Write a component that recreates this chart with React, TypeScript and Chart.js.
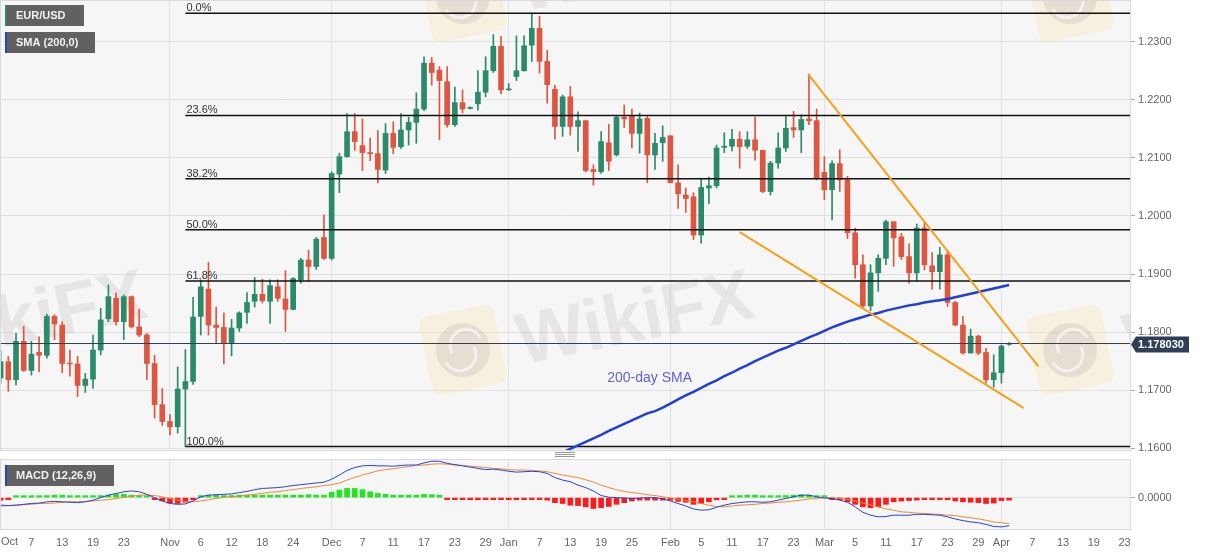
import React, { useEffect, useRef } from 'react';
import { Chart, registerables } from 'chart.js';

Chart.register(...registerables);

// ---------------- data ----------------
const tickIdx = [0, 4, 8, 12, 16, 22, 26, 30, 34, 38, 43, 47, 51, 55, 59, 63, 66, 70, 74, 78, 82, 87, 91, 95, 99, 103, 107, 111, 115, 119, 123, 127, 130, 134, 138, 142, 146];
const tickLabels = ['Oct', '7', '13', '19', '23', 'Nov', '6', '12', '18', '24', 'Dec', '7', '11', '17', '23', '29', 'Jan', '7', '13', '19', '25', 'Feb', '5', '11', '17', '23', 'Mar', '5', '11', '17', '23', '29', 'Apr', '7', '13', '19', '23'];
const monthIdx = [22, 43, 66, 87, 107, 130];

const opens = [
  1.1721, 1.1749, 1.1718, 1.1784, 1.1734, 1.1765, 1.1760, 1.1827, 1.1812, 1.1746,
  1.1745, 1.1708, 1.1719, 1.1769, 1.1823, 1.1858, 1.1818, 1.1861, 1.1809, 1.1795,
  1.1746, 1.1675, 1.1646, 1.1637, 1.1702, 1.1715, 1.1827, 1.1874, 1.1812, 1.1808,
  1.1781, 1.1807, 1.1834, 1.1853, 1.1865, 1.1853, 1.1878, 1.1857, 1.1839, 1.1890,
  1.1924, 1.1913, 1.1963, 1.1927, 1.2072, 1.2102, 1.2145, 1.2121, 1.2109, 1.2107,
  1.2079, 1.2142, 1.2119, 1.2148, 1.2161, 1.2184, 1.2263, 1.2251, 1.2231, 1.2157,
  1.2195, 1.2185, 1.2193, 1.2213, 1.2250, 1.2292, 1.2217, 1.2240, 1.2250, 1.2294,
  1.2323, 1.2266, 1.2218, 1.2154, 1.2205, 1.2154, 1.2164, 1.2080, 1.2076, 1.2126,
  1.2105, 1.2170, 1.2172, 1.2142, 1.2168, 1.2105, 1.2126, 1.2138, 1.2057, 1.2036,
  1.2033, 1.1967, 1.2048, 1.2052, 1.2118, 1.2120, 1.2132, 1.2120, 1.2131, 1.2113,
  1.2042, 1.2091, 1.2117, 1.2152, 1.2148, 1.2167, 1.2164, 1.2075, 1.2045, 1.2090,
  1.2062, 1.1971, 1.1916, 1.1845, 1.1902, 1.1927, 1.1990, 1.1964, 1.1930, 1.1902,
  1.1979, 1.1914, 1.1904, 1.1933, 1.1851, 1.1812, 1.1764, 1.1793, 1.1765, 1.1718,
  1.1730, 1.1779,
];
const highs = [
  1.1768, 1.1758, 1.1798, 1.1810, 1.1784, 1.1792, 1.1831, 1.1830, 1.1818, 1.1769,
  1.1758, 1.1729, 1.1795, 1.1841, 1.1881, 1.1867, 1.1864, 1.1862, 1.1839, 1.1798,
  1.1760, 1.1703, 1.1658, 1.1740, 1.1770, 1.1860, 1.1890, 1.1920, 1.1843, 1.1833,
  1.1822, 1.1835, 1.1868, 1.1894, 1.1891, 1.1890, 1.1890, 1.1906, 1.1894, 1.1927,
  1.1941, 1.1963, 1.2002, 1.2076, 1.2108, 1.2176, 1.2176, 1.2167, 1.2134, 1.2147,
  1.2159, 1.2162, 1.2176, 1.2170, 1.2212, 1.2274, 1.2273, 1.2257, 1.2257, 1.2222,
  1.2217, 1.2188, 1.2250, 1.2274, 1.2312, 1.2309, 1.2228, 1.2310, 1.2310, 1.2349,
  1.2344, 1.2285, 1.2225, 1.2208, 1.2223, 1.2179, 1.2164, 1.2088, 1.2145, 1.2158,
  1.2172, 1.2191, 1.2184, 1.2177, 1.2171, 1.2142, 1.2155, 1.2138, 1.2088, 1.2048,
  1.2040, 1.2065, 1.2067, 1.2122, 1.2143, 1.2149, 1.2145, 1.2145, 1.2170, 1.2113,
  1.2094, 1.2143, 1.2171, 1.2180, 1.2174, 1.2244, 1.2184, 1.2102, 1.2095, 1.2114,
  1.2068, 1.1979, 1.1933, 1.1916, 1.1933, 1.1993, 1.1990, 1.1970, 1.1952, 1.1986,
  1.1988, 1.1937, 1.1946, 1.1941, 1.1853, 1.1827, 1.1805, 1.1795, 1.1772, 1.1761,
  1.1778, 1.1782,
];
const lows = [
  1.1712, 1.1698, 1.1709, 1.1732, 1.1726, 1.1732, 1.1755, 1.1787, 1.1730, 1.1724,
  1.1689, 1.1696, 1.1703, 1.1761, 1.1818, 1.1812, 1.1787, 1.1807, 1.1792, 1.1718,
  1.1652, 1.1639, 1.1623, 1.1626, 1.1603, 1.1710, 1.1795, 1.1795, 1.1781, 1.1745,
  1.1759, 1.1801, 1.1815, 1.1843, 1.1850, 1.1815, 1.1853, 1.1801, 1.1838, 1.1884,
  1.1887, 1.1908, 1.1925, 1.1924, 1.2040, 1.2101, 1.2113, 1.2078, 1.2095, 1.2057,
  1.2073, 1.2107, 1.2116, 1.2122, 1.2125, 1.2181, 1.2225, 1.2131, 1.2153, 1.2154,
  1.2177, 1.2184, 1.2182, 1.2205, 1.2247, 1.2210, 1.2216, 1.2233, 1.2249, 1.2266,
  1.2246, 1.2194, 1.2132, 1.2137, 1.2139, 1.2111, 1.2076, 1.2053, 1.2073, 1.2078,
  1.2103, 1.2152, 1.2117, 1.2108, 1.2057, 1.2080, 1.2094, 1.2057, 1.2013, 1.2006,
  1.1959, 1.1953, 1.2021, 1.2048, 1.2109, 1.2112, 1.2082, 1.2116, 1.2096, 1.2040,
  1.2036, 1.2082, 1.2111, 1.2135, 1.2109, 1.2157, 1.2062, 1.2028, 1.1993, 1.2042,
  1.1961, 1.1893, 1.1841, 1.1837, 1.1870, 1.1916, 1.1913, 1.1925, 1.1884, 1.1887,
  1.1907, 1.1874, 1.1874, 1.1844, 1.1811, 1.1762, 1.1764, 1.1761, 1.1712, 1.1705,
  1.1712, 1.1777,
];
const closes = [
  1.1749, 1.1718, 1.1784, 1.1734, 1.1762, 1.1760, 1.1827, 1.1814, 1.1746, 1.1745,
  1.1708, 1.1719, 1.1769, 1.1821, 1.1861, 1.1818, 1.1861, 1.1809, 1.1795, 1.1746,
  1.1675, 1.1646, 1.1637, 1.1702, 1.1715, 1.1826, 1.1878, 1.1812, 1.1808, 1.1781,
  1.1807, 1.1833, 1.1851, 1.1865, 1.1854, 1.1880, 1.1858, 1.1839, 1.1892, 1.1924,
  1.1913, 1.1960, 1.1927, 1.2073, 1.2102, 1.2145, 1.2128, 1.2109, 1.2107, 1.2080,
  1.2142, 1.2118, 1.2148, 1.2161, 1.2184, 1.2263, 1.2247, 1.2233, 1.2157, 1.2195,
  1.2184, 1.2186, 1.2213, 1.2250, 1.2292, 1.2217, 1.2217, 1.2250, 1.2293, 1.2323,
  1.2266, 1.2226, 1.2154, 1.2205, 1.2154, 1.2164, 1.2078, 1.2076, 1.2128, 1.2094,
  1.2170, 1.2167, 1.2142, 1.2167, 1.2105, 1.2125, 1.2135, 1.2057, 1.2038, 1.2030,
  1.1967, 1.2049, 1.2052, 1.2117, 1.2120, 1.2132, 1.2119, 1.2131, 1.2113, 1.2042,
  1.2091, 1.2117, 1.2151, 1.2148, 1.2166, 1.2164, 1.2065, 1.2045, 1.2090, 1.2062,
  1.1971, 1.1916, 1.1845, 1.1902, 1.1927, 1.1990, 1.1962, 1.1930, 1.1902, 1.1979,
  1.1916, 1.1904, 1.1933, 1.1851, 1.1812, 1.1764, 1.1793, 1.1764, 1.1718, 1.1730,
  1.1776, 1.1780,
];

const priceTicks = [1.16, 1.17, 1.18, 1.19, 1.2, 1.21, 1.22, 1.23];
const fibLevels = [1.2349, 1.2173, 1.2064, 1.1976, 1.1888, 1.1603];
const fibLabels = ['0.0%', '23.6%', '38.2%', '50.0%', '61.8%', '100.0%'];
const fibStartIdx = 24;
const currentPrice = 1.17803;

const smaStartIdx = 72;
const smaValues = [
  1.1587, 1.1593, 1.1599, 1.1605, 1.1611, 1.1617, 1.1623, 1.1630, 1.1636, 1.1642,
  1.1648, 1.1654, 1.1660, 1.1664, 1.1670, 1.1677, 1.1684, 1.1691, 1.1697, 1.1704,
  1.1711, 1.1717, 1.1724, 1.1730, 1.1737, 1.1743, 1.1750, 1.1756, 1.1762, 1.1768,
  1.1773, 1.1779, 1.1785, 1.1791, 1.1796, 1.1802, 1.1808, 1.1813, 1.1818, 1.1822,
  1.1826, 1.1830, 1.1833, 1.1837, 1.1840, 1.1843, 1.1846, 1.1848, 1.1851, 1.1853,
  1.1855, 1.1857, 1.1860, 1.1863, 1.1866, 1.1869, 1.1872, 1.1875, 1.1878, 1.1881,
];

const upperTrendIdx = [104.9, 134.8];
const upperTrendPrice = [1.2244, 1.1741];
const lowerTrendIdx = [96.0, 132.9];
const lowerTrendPrice = [1.1972, 1.1669];

const macdValues = [
  -0.0018, -0.0019, -0.0018, -0.0016, -0.0014, -0.0013, -0.0010, -0.0009, -0.0010, -0.0011,
  -0.0012, -0.0010, -0.0006, 0.0000, 0.0006, 0.0010, 0.0014, 0.0016, 0.0014, 0.0008,
  0.0000, -0.0008, -0.0014, -0.0016, -0.0015, -0.0008, 0.0002, 0.0006, 0.0007, 0.0008,
  0.0009, 0.0012, 0.0015, 0.0019, 0.0022, 0.0023, 0.0024, 0.0026, 0.0029, 0.0031,
  0.0033, 0.0035, 0.0037, 0.0044, 0.0054, 0.0065, 0.0072, 0.0076, 0.0077, 0.0076,
  0.0076, 0.0075, 0.0077, 0.0078, 0.0078, 0.0083, 0.0087, 0.0087, 0.0082, 0.0079,
  0.0076, 0.0073, 0.0070, 0.0067, 0.0068, 0.0066, 0.0063, 0.0061, 0.0062, 0.0063,
  0.0062, 0.0058, 0.0048, 0.0042, 0.0038, 0.0030, 0.0024, 0.0016, 0.0005, 0.0001,
  0.0000, -0.0001, -0.0002, -0.0001, 0.0000, 0.0000, -0.0003, -0.0008, -0.0014, -0.0020,
  -0.0027, -0.0030, -0.0029, -0.0023, -0.0018, -0.0014, -0.0012, -0.0010, -0.0010, -0.0011,
  -0.0010, -0.0006, -0.0002, 0.0002, 0.0006, 0.0006, 0.0002, -0.0001, -0.0002, -0.0006,
  -0.0011, -0.0022, -0.0035, -0.0042, -0.0046, -0.0045, -0.0042, -0.0042, -0.0042, -0.0040,
  -0.0040, -0.0041, -0.0042, -0.0046, -0.0051, -0.0055, -0.0058, -0.0060, -0.0064, -0.0069,
  -0.0070, -0.0067,
];
const signalValues = [
  -0.0020, -0.0019, -0.0018, -0.0017, -0.0016, -0.0014, -0.0014, -0.0013, -0.0011, -0.0010,
  -0.0010, -0.0009, -0.0008, -0.0006, -0.0005, -0.0002, 0.0001, 0.0003, 0.0006, 0.0006,
  0.0005, 0.0002, -0.0002, -0.0006, -0.0009, -0.0010, -0.0008, -0.0005, -0.0002, 0.0001,
  0.0002, 0.0004, 0.0006, 0.0008, 0.0010, 0.0013, 0.0014, 0.0017, 0.0019, 0.0022,
  0.0024, 0.0026, 0.0029, 0.0031, 0.0035, 0.0042, 0.0048, 0.0054, 0.0059, 0.0064,
  0.0067, 0.0069, 0.0072, 0.0074, 0.0077, 0.0078, 0.0080, 0.0081, 0.0080, 0.0078,
  0.0077, 0.0075, 0.0074, 0.0072, 0.0070, 0.0069, 0.0067, 0.0066, 0.0066, 0.0065,
  0.0064, 0.0062, 0.0058, 0.0054, 0.0051, 0.0048, 0.0043, 0.0037, 0.0030, 0.0024,
  0.0019, 0.0015, 0.0012, 0.0010, 0.0007, 0.0005, 0.0002, -0.0001, -0.0004, -0.0007,
  -0.0010, -0.0014, -0.0018, -0.0021, -0.0022, -0.0020, -0.0018, -0.0017, -0.0016, -0.0014,
  -0.0013, -0.0011, -0.0010, -0.0008, -0.0006, -0.0003, -0.0002, 0.0000, 0.0000, -0.0001,
  -0.0004, -0.0008, -0.0013, -0.0018, -0.0022, -0.0027, -0.0030, -0.0034, -0.0035, -0.0037,
  -0.0038, -0.0039, -0.0040, -0.0042, -0.0043, -0.0046, -0.0048, -0.0051, -0.0054, -0.0058,
  -0.0060, -0.0062,
];
const histValues = [
  -0.0006, -0.0004, 0.0002, 0.0002, 0.0002, 0.0002, 0.0004, 0.0006, 0.0006, 0.0003,
  0.0002, 0.0002, 0.0002, 0.0005, 0.0006, 0.0008, 0.0008, 0.0006, 0.0004, 0.0002,
  -0.0003, -0.0008, -0.0013, -0.0014, -0.0011, -0.0005, 0.0005, 0.0006, 0.0006, 0.0005,
  0.0005, 0.0006, 0.0006, 0.0006, 0.0006, 0.0006, 0.0006, 0.0006, 0.0006, 0.0006,
  0.0007, 0.0006, 0.0006, 0.0013, 0.0018, 0.0022, 0.0022, 0.0019, 0.0014, 0.0010,
  0.0008, 0.0006, 0.0006, 0.0006, 0.0006, 0.0008, 0.0007, 0.0006, -0.0002, -0.0002,
  -0.0003, -0.0005, -0.0005, -0.0004, -0.0003, -0.0003, -0.0005, -0.0005, -0.0004, -0.0003,
  -0.0003, -0.0006, -0.0012, -0.0014, -0.0018, -0.0019, -0.0022, -0.0026, -0.0024, -0.0021,
  -0.0016, -0.0012, -0.0008, -0.0006, -0.0006, -0.0006, -0.0006, -0.0006, -0.0009, -0.0011,
  -0.0016, -0.0014, -0.0010, -0.0005, -0.0001, 0.0002, 0.0005, 0.0006, 0.0006, 0.0003,
  0.0002, 0.0003, 0.0005, 0.0006, 0.0007, 0.0006, 0.0002, 0.0001, -0.0002, -0.0005,
  -0.0010, -0.0016, -0.0022, -0.0024, -0.0022, -0.0016, -0.0010, -0.0008, -0.0007, -0.0006,
  -0.0003, -0.0002, -0.0002, -0.0005, -0.0008, -0.0010, -0.0011, -0.0012, -0.0014, -0.0013,
  -0.0007, -0.0006,
];

// ---------------- layout / style ----------------
const X_MIN = 0.05;
const X_MAX = 146.7;
const Y_MIN = 1.1597;
const Y_MAX = 1.2370;
const MACD_MIN = -0.0075;
const MACD_MAX = 0.009;
const AXIS_W = 77;
const UP = '#2b8a6b';
const DOWN = '#dc5641';
const FONT = '"Liberation Sans", Arial, sans-serif';
const smaLabelIdx = 78.8;
const smaLabelPrice = 1.1721;
const watermarkAnchors = [
  [-144, 350], [463, 350], [1070, 350],
  [-144, -3], [463, -3], [1070, -3],
];

Chart.defaults.font.family = FONT;

const idxs = closes.map((_, i) => i);
const candleColors = idxs.map((i) => (closes[i] >= opens[i] ? UP : DOWN));

function drawTag(ctx: CanvasRenderingContext2D, x: number, y: number, w: number, h: number, stripe: string, text: string) {
  ctx.fillStyle = '#616161';
  ctx.fillRect(x, y, w, h);
  ctx.fillStyle = stripe;
  ctx.fillRect(x, y, 2, h);
  ctx.fillStyle = '#f2f2f2';
  ctx.font = 'bold 11px ' + FONT;
  ctx.textAlign = 'left';
  ctx.textBaseline = 'middle';
  ctx.fillText(text, x + 11, y + h / 2 + 0.5);
}

function roundRect(ctx: CanvasRenderingContext2D, x: number, y: number, w: number, h: number, r: number) {
  ctx.beginPath();
  ctx.moveTo(x + r, y);
  ctx.lineTo(x + w - r, y);
  ctx.quadraticCurveTo(x + w, y, x + w, y + r);
  ctx.lineTo(x + w, y + h - r);
  ctx.quadraticCurveTo(x + w, y + h, x + w - r, y + h);
  ctx.lineTo(x + r, y + h);
  ctx.quadraticCurveTo(x, y + h, x, y + h - r);
  ctx.lineTo(x, y + r);
  ctx.quadraticCurveTo(x, y, x + r, y);
  ctx.closePath();
}

function drawWatermark(ctx: CanvasRenderingContext2D, cx: number, cy: number) {
  ctx.save();
  ctx.translate(cx, cy);
  ctx.rotate(-0.2);
  roundRect(ctx, -38, -40, 76, 80, 10);
  ctx.fillStyle = 'rgba(250, 226, 160, 0.28)';
  ctx.fill();
  ctx.beginPath();
  ctx.arc(0, 0, 27, 0, Math.PI * 2);
  ctx.fillStyle = 'rgba(170, 160, 165, 0.22)';
  ctx.fill();
  ctx.strokeStyle = 'rgba(246, 246, 246, 0.8)';
  ctx.lineWidth = 3;
  ctx.beginPath();
  ctx.arc(4, -4, 16, Math.PI * 0.9, Math.PI * 1.9);
  ctx.stroke();
  ctx.beginPath();
  ctx.arc(-4, 4, 16, Math.PI * 1.9, Math.PI * 2.9);
  ctx.stroke();
  ctx.font = 'bold 72px ' + FONT;
  ctx.fillStyle = 'rgba(175, 165, 165, 0.2)';
  ctx.textAlign = 'left';
  ctx.textBaseline = 'alphabetic';
  ctx.fillText('WikiFX', 55, 26);
  ctx.restore();
}

const mainDecor = {
  id: 'mainDecor',
  beforeDraw(chart: any) {
    const { ctx, chartArea: a } = chart;
    ctx.save();
    ctx.fillStyle = '#f6f6f6';
    ctx.fillRect(a.left, a.top, a.right - a.left, a.bottom - a.top);
    ctx.restore();
  },
  beforeDatasetsDraw(chart: any) {
    const { ctx, chartArea: a } = chart;
    ctx.save();
    ctx.beginPath();
    ctx.rect(a.left, a.top, a.right - a.left, a.bottom - a.top);
    ctx.clip();
    watermarkAnchors.forEach(([wx, wy]) => drawWatermark(ctx, wx, wy));
    ctx.restore();
  },
  afterDraw(chart: any) {
    const { ctx, chartArea: a, scales } = chart;
    const xs = scales.x;
    const ys = scales.y;
    ctx.save();
    ctx.strokeStyle = '#d8d8e0';
    ctx.lineWidth = 1;
    ctx.strokeRect(a.left - 0.5, a.top - 0.5, a.right - a.left + 1, a.bottom - a.top + 1);

    ctx.font = '11px ' + FONT;
    ctx.fillStyle = '#333';
    ctx.textAlign = 'left';
    ctx.textBaseline = 'alphabetic';
    fibLevels.forEach((lv, k) => {
      ctx.fillText(fibLabels[k], xs.getPixelForValue(fibStartIdx) + 1, ys.getPixelForValue(lv) - 2);
    });

    ctx.font = '14px ' + FONT;
    ctx.fillStyle = '#5f5fd6';
    ctx.textBaseline = 'middle';
    ctx.fillText('200-day SMA', xs.getPixelForValue(smaLabelIdx), ys.getPixelForValue(smaLabelPrice));

    drawTag(ctx, 5, 5, 79, 21, UP, 'EUR/USD');
    drawTag(ctx, 5, 32, 90, 21, '#2244cc', 'SMA (200,0)');

    // current price tag
    const cy = ys.getPixelForValue(currentPrice) + 1;
    ctx.fillStyle = '#2f3f58';
    ctx.beginPath();
    ctx.moveTo(a.right + 1, cy);
    ctx.lineTo(a.right + 6, cy - 8);
    ctx.lineTo(a.right + 59, cy - 8);
    ctx.lineTo(a.right + 59, cy + 8);
    ctx.lineTo(a.right + 6, cy + 8);
    ctx.closePath();
    ctx.fill();
    ctx.fillStyle = '#ffffff';
    ctx.font = 'bold 11px ' + FONT;
    ctx.textBaseline = 'middle';
    ctx.fillText(currentPrice.toFixed(6), a.right + 8, cy + 0.5);

    // panel splitter handle
    ctx.strokeStyle = '#999';
    ctx.lineWidth = 1;
    for (let k = 0; k < 3; k++) {
      ctx.beginPath();
      ctx.moveTo(555, 452.5 + k * 2);
      ctx.lineTo(575, 452.5 + k * 2);
      ctx.stroke();
    }
    ctx.restore();
  },
};

const macdDecor = {
  id: 'macdDecor',
  beforeDraw(chart: any) {
    const { ctx, chartArea: a } = chart;
    ctx.save();
    ctx.fillStyle = '#f6f6f6';
    ctx.fillRect(a.left, a.top, a.right - a.left, a.bottom - a.top);
    ctx.restore();
  },
  afterDraw(chart: any) {
    const { ctx, chartArea: a } = chart;
    ctx.save();
    ctx.strokeStyle = '#d8d8e0';
    ctx.lineWidth = 1;
    ctx.strokeRect(a.left - 0.5, a.top - 0.5, a.right - a.left + 1, a.bottom - a.top + 1);
    drawTag(ctx, 5, 10, 109, 21, '#2244cc', 'MACD (12,26,9)');
    ctx.fillStyle = '#666';
    ctx.font = '11px ' + FONT;
    ctx.textAlign = 'left';
    ctx.textBaseline = 'middle';
    ctx.fillText(tickLabels[0], a.left, a.bottom + 13);
    ctx.restore();
  },
};

function noPad(s: any) {
  s.paddingLeft = 0;
  s.paddingRight = 0;
  s.paddingTop = 0;
  s.paddingBottom = 0;
}

function xScale(showLabels: boolean) {
  return {
    type: 'linear',
    min: X_MIN,
    max: X_MAX,
    offset: false,
    afterBuildTicks: (s: any) => {
      s.ticks = tickIdx.map((v) => ({ value: v }));
    },
    afterFit: (s: any) => {
      s.height = showLabels ? 26 : 0;
      noPad(s);
    },
    grid: {
      offset: false,
      drawTicks: false,
      color: (c: any) => (c.tick && monthIdx.includes(c.tick.value) ? '#e1e1e1' : 'rgba(0,0,0,0)'),
    },
    border: { display: false },
    ticks: {
      display: showLabels,
      autoSkip: false,
      maxRotation: 0,
      padding: 7,
      color: '#666',
      font: { size: 11, family: FONT },
      callback: (v: any) => {
        const k = tickIdx.indexOf(Number(v));
        return k <= 0 ? '' : tickLabels[k];
      },
    },
  };
}

export default function App() {
  const mainRef = useRef<HTMLCanvasElement>(null);
  const macdRef = useRef<HTMLCanvasElement>(null);

  useEffect(() => {
    const main = new Chart(mainRef.current as HTMLCanvasElement, {
      type: 'bar',
      data: {
        datasets: [
          {
            type: 'bar',
            data: idxs.map((i) => ({ x: i, y: [lows[i], highs[i]] })),
            backgroundColor: candleColors,
            barThickness: 1,
            grouped: false,
            order: 4,
            clip: 0,
          } as any,
          {
            type: 'bar',
            data: idxs.map((i) => ({ x: i, y: [opens[i], closes[i]] })),
            backgroundColor: candleColors,
            barThickness: 5,
            minBarLength: 1,
            grouped: false,
            order: 3,
            clip: 0,
          } as any,
          {
            type: 'line',
            data: [
              { x: X_MIN, y: currentPrice },
              { x: X_MAX, y: currentPrice },
            ],
            borderColor: '#2f3f58',
            borderWidth: 1,
            pointRadius: 0,
            order: 2.5,
          } as any,
          ...fibLevels.map(
            (lv) =>
              ({
                type: 'line',
                data: [
                  { x: fibStartIdx, y: lv },
                  { x: X_MAX, y: lv },
                ],
                borderColor: '#111',
                borderWidth: 1.5,
                pointRadius: 0,
                order: 2,
              } as any)
          ),
          {
            type: 'line',
            data: smaValues.map((v, k) => ({ x: smaStartIdx + k, y: v })),
            borderColor: '#1f3fd6',
            borderWidth: 2.5,
            pointRadius: 0,
            order: 1,
            clip: 0,
          } as any,
          {
            type: 'line',
            data: upperTrendIdx.map((v, k) => ({ x: v, y: upperTrendPrice[k] })),
            borderColor: '#f5a11a',
            borderWidth: 2,
            pointRadius: 0,
            order: 0,
          } as any,
          {
            type: 'line',
            data: lowerTrendIdx.map((v, k) => ({ x: v, y: lowerTrendPrice[k] })),
            borderColor: '#f5a11a',
            borderWidth: 2,
            pointRadius: 0,
            order: 0,
          } as any,
        ],
      },
      options: {
        responsive: false,
        animation: false,
        events: [],
        layout: { padding: { left: 1, top: 1, right: 0, bottom: 10 } },
        plugins: { legend: { display: false }, tooltip: { enabled: false } },
        scales: {
          x: xScale(false) as any,
          y: {
            type: 'linear',
            position: 'right',
            min: Y_MIN,
            max: Y_MAX,
            afterBuildTicks: (s: any) => {
              s.ticks = priceTicks.map((v) => ({ value: v }));
            },
            afterFit: (s: any) => {
              s.width = AXIS_W;
              noPad(s);
            },
            grid: { color: '#e1e1e1', tickLength: 5, tickColor: '#aaa' },
            border: { display: false },
            ticks: {
              color: '#666',
              padding: 3,
              font: { size: 11, family: FONT },
              callback: (v: any) => Number(v).toFixed(4),
            },
          },
        },
      },
      plugins: [mainDecor],
    } as any);

    const macd = new Chart(macdRef.current as HTMLCanvasElement, {
      type: 'bar',
      data: {
        datasets: [
          {
            type: 'line',
            data: idxs.map((i) => ({ x: i, y: macdValues[i] })),
            borderColor: '#2443e0',
            borderWidth: 1,
            pointRadius: 0,
            order: 0,
          } as any,
          {
            type: 'line',
            data: idxs.map((i) => ({ x: i, y: signalValues[i] })),
            borderColor: '#f08a2c',
            borderWidth: 1,
            pointRadius: 0,
            order: 1,
          } as any,
          {
            type: 'bar',
            data: idxs.map((i) => ({ x: i, y: histValues[i] })),
            backgroundColor: histValues.map((v) => (v >= 0 ? '#1fe61f' : '#ff1a1a')),
            barThickness: 5,
            minBarLength: 2,
            grouped: false,
            order: 2,
            clip: 0,
          } as any,
        ],
      },
      options: {
        responsive: false,
        animation: false,
        events: [],
        layout: { padding: { left: 1, top: 5, right: 0, bottom: 0 } },
        plugins: { legend: { display: false }, tooltip: { enabled: false } },
        scales: {
          x: xScale(true) as any,
          y: {
            type: 'linear',
            position: 'right',
            min: MACD_MIN,
            max: MACD_MAX,
            afterBuildTicks: (s: any) => {
              s.ticks = [{ value: 0 }];
            },
            afterFit: (s: any) => {
              s.width = AXIS_W;
              noPad(s);
            },
            grid: { color: '#dedede', tickLength: 5, tickColor: '#aaa' },
            border: { display: false },
            ticks: {
              color: '#666',
              padding: 3,
              font: { size: 11, family: FONT },
              callback: () => '0.0000',
            },
          },
        },
      },
      plugins: [macdDecor],
    } as any);

    return () => {
      main.destroy();
      macd.destroy();
    };
  }, []);

  return (
    <div style={{ position: 'absolute', left: 0, top: 0, width: 1207, height: 555, background: '#ffffff', overflow: 'hidden' }}>
      <canvas ref={mainRef} width={1207} height={460} style={{ position: 'absolute', left: 0, top: 0 }} />
      <canvas ref={macdRef} width={1207} height={100} style={{ position: 'absolute', left: 0, top: 455 }} />
    </div>
  );
}
